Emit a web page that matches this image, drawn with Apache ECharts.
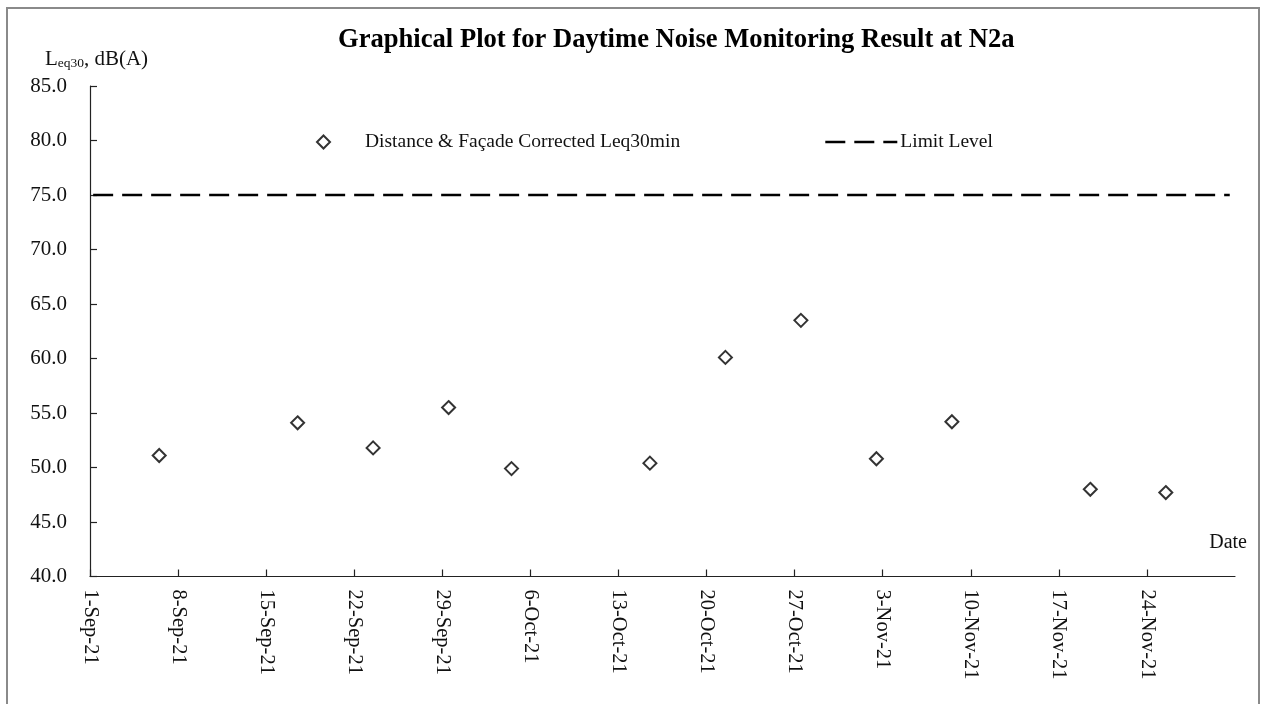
<!DOCTYPE html>
<html>
<head>
<meta charset="utf-8">
<script src="https://cdn.jsdelivr.net/npm/echarts@6/dist/echarts.min.js"></script>
<style>
html,body{margin:0;padding:0;background:#fff;}
#chart{width:1264px;height:704px;}
</style>
</head>
<body>
<div id="chart"></div>
<script>
// ---- data ----
var startDate = '2021-09-01 00:00';
var endDate = '2021-12-01 00:00';
var measureDates = ['2021-09-06 12:00', '2021-09-17 12:00', '2021-09-23 12:00', '2021-09-29 12:00',
  '2021-10-04 12:00', '2021-10-15 12:00', '2021-10-21 12:00', '2021-10-27 12:00',
  '2021-11-02 12:00', '2021-11-08 12:00', '2021-11-19 12:00', '2021-11-25 12:00'];
var leqValues = [51.1, 54.1, 51.8, 55.5, 49.9, 50.4, 60.1, 63.5, 50.8, 54.2, 48.0, 47.7];
var limitDates = ['2021-09-01 06:00', '2021-11-30 14:00'];
var limitValues = [75, 75];
var monthNames = ['Jan','Feb','Mar','Apr','May','Jun','Jul','Aug','Sep','Oct','Nov','Dec'];
var seriesNames = ['Distance & Façade Corrected Leq30min', 'Limit Level'];
var titleText = 'Graphical Plot for Daytime Noise Monitoring Result at N2a';

// ---- helpers ----
function toMs(s){ return Date.parse(s.replace(' ', 'T') + ':00Z'); }
var DAY = 86400000;
var t0 = toMs(startDate);
function dayOffset(s){ return (toMs(s) - t0) / DAY; }
function fmtDay(v){
  var d = new Date(t0 + v * DAY);
  return d.getUTCDate() + '-' + monthNames[d.getUTCMonth()] + '-' + String(d.getUTCFullYear()).slice(2);
}

var scatterData = measureDates.map(function(d, i){ return [dayOffset(d), leqValues[i]]; });
var limitData = limitDates.map(function(d, i){ return [dayOffset(d), limitValues[i]]; });

var serif = '"Liberation Serif", "Times New Roman", serif';
var chart = echarts.init(document.getElementById('chart'));
chart.setOption({
  animation: false,
  backgroundColor: '#fff',
  title: {
    text: titleText,
    left: 333,
    top: 22,
    textStyle: { fontFamily: serif, fontWeight: 'bold', fontSize: 26.6, color: '#000' }
  },
  graphic: [{
    type: 'rect',
    shape: { x: 7, y: 8, width: 1252, height: 730 },
    style: { fill: 'none', stroke: '#8a8a8a', lineWidth: 2 },
    silent: true
  }],
  legend: [{
    data: [seriesNames[0]],
    left: 316,
    top: 132,
    padding: 0,
    itemWidth: 13,
    itemHeight: 13,
    formatter: function(n){ return '{t|' + n + '}'; },
    textStyle: { fontFamily: serif, fontSize: 19.5, color: '#111',
      rich: { t: { fontFamily: serif, fontSize: 19.5, color: '#111', padding: [0,0,0,30] } } }
  }, {
    data: [seriesNames[1]],
    left: 824,
    top: 132,
    padding: 0,
    itemWidth: 72,
    itemHeight: 13,
    itemGap: 0,
    itemStyle: { opacity: 0 },
    lineStyle: { color: '#000', width: 2.6, type: [20, 9] },
    textStyle: { fontFamily: serif, fontSize: 19.5, color: '#111', padding: [0,0,0,-2] }
  }],
  grid: { left: 90, right: 29, top: 86, bottom: 127.5, containLabel: false },
  xAxis: {
    type: 'value',
    min: 0,
    max: dayOffset(endDate),
    interval: 7,
    name: 'Date',
    nameLocation: 'end',
    nameGap: 12,
    nameTextStyle: { fontFamily: serif, fontSize: 20, color: '#111', align: 'right', verticalAlign: 'bottom', lineHeight: 20, padding: [0,0,24,0] },
    splitLine: { show: false },
    axisLine: { lineStyle: { color: '#222', width: 1.2 } },
    axisTick: { inside: true, length: 7, lineStyle: { color: '#222', width: 1.2 } },
    axisLabel: {
      rotate: -90, margin: 13, showMaxLabel: false,
      fontFamily: serif, fontSize: 20.5, color: '#111',
      formatter: function(v){ return fmtDay(v); }
    }
  },
  yAxis: {
    type: 'value',
    min: 40, max: 85, interval: 5,
    name: '{s|}{a|L}{b|eq30}{a|, dB(A)}',
    nameLocation: 'end',
    nameGap: 16,
    nameTextStyle: {
      align: 'center',
      rich: {
        s: { width: 13 },
        a: { fontFamily: serif, fontSize: 21, color: '#111', verticalAlign: 'bottom', lineHeight: 24 },
        b: { fontFamily: serif, fontSize: 13.5, color: '#111', verticalAlign: 'bottom', lineHeight: 14 }
      }
    },
    splitLine: { show: false },
    axisLine: { show: true, lineStyle: { color: '#222', width: 1.2 } },
    axisTick: { show: true, inside: true, length: 7, lineStyle: { color: '#222', width: 1.2 } },
    axisLabel: {
      margin: 23, fontFamily: serif, fontSize: 21, color: '#111',
      formatter: function(v){ return v.toFixed(1); }
    }
  },
  series: [{
    name: seriesNames[0],
    type: 'scatter',
    data: scatterData,
    symbol: 'diamond',
    symbolSize: 13,
    itemStyle: { color: '#fff', borderColor: '#000', borderWidth: 2 },
    z: 3
  }, {
    name: seriesNames[1],
    type: 'line',
    data: limitData,
    symbol: 'none',
    itemStyle: { color: '#000' },
    lineStyle: { color: '#000', width: 2.6, type: [20, 9] },
    z: 2
  }]
});
</script>
</body>
</html>
